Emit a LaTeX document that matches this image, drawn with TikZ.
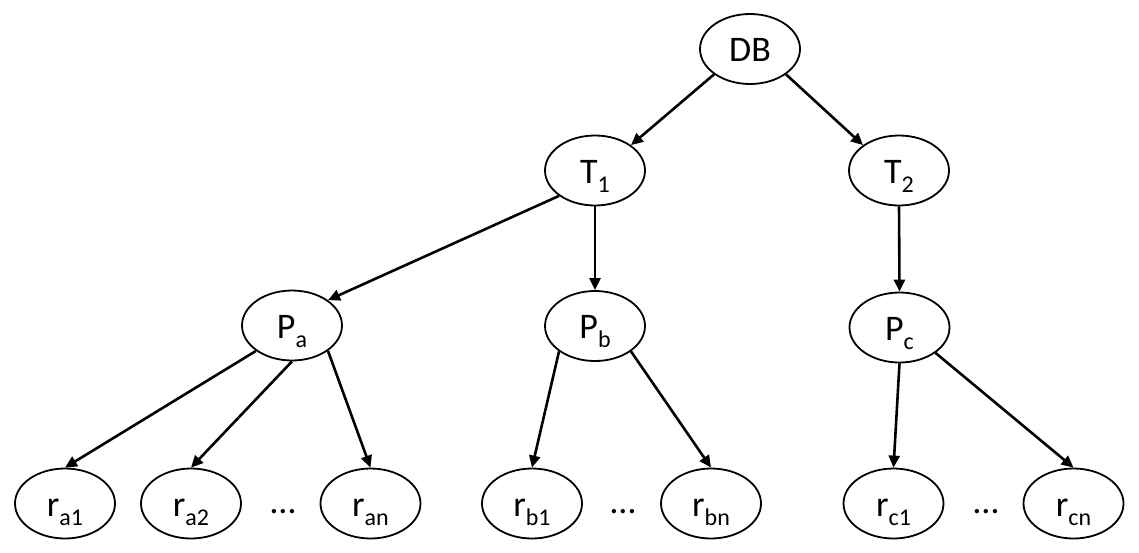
\documentclass[tikz,border=0pt]{standalone}
\usepackage{fontspec}
\setmainfont{Carlito}
\usetikzlibrary{shapes.geometric,arrows.meta}
% lowered, smaller index after a main letter
\newcommand{\lowsub}[1]{\raisebox{-9pt}{\fontsize{24}{24}\selectfont #1}}
\begin{document}
\begin{tikzpicture}[x=1pt,y=-1pt,
  nd/.style={ellipse,draw,line width=1.8pt,minimum width=100pt,minimum height=70pt,
    inner sep=0pt,text height=30pt,text depth=5pt,font=\fontsize{36}{40}\selectfont},
  link/.style={line width=2.6pt,-{Triangle[length=12pt,width=11pt]}},
  gap/.style={anchor=base,font=\fontsize{36}{40}\selectfont}]
\useasboundingbox (0,0) rectangle (1139,552);

% root and tables
\node[nd] (db) at (750,49) {DB};
\node[nd] (t1) at (595,170.5) {T\lowsub{1}};
\node[nd] (t2) at (899,170.5) {T\lowsub{2}};

% partitions
\node[nd] (pa) at (292,325.5) {P\lowsub{a}};
\node[nd] (pb) at (595,326) {P\lowsub{b}};
\node[nd] (pc) at (899.5,327.5) {P\lowsub{c}};

% rows
\node[nd] (ra1) at (65,503.5) {r\lowsub{a1}};
\node[nd] (ra2) at (191,503.5) {r\lowsub{a2}};
\node[nd] (ran) at (370.5,503.5) {r\lowsub{an}};
\node[nd] (rb1) at (532,503.5) {r\lowsub{b1}};
\node[nd] (rbn) at (711,503.5) {r\lowsub{bn}};
\node[nd] (rc1) at (893.5,503.5) {r\lowsub{c1}};
\node[nd] (rcn) at (1073.5,503.5) {r\lowsub{cn}};

% ellipses between rows
\node[gap] (da) at (283,513) {…};
\node[gap] (dbb) at (623,513) {…};
\node[gap] (dc) at (986,513) {…};

% connectors
\draw[link] (db.south west) -- (t1.north east);
\draw[link] (db.south east) -- (t2.north west);
\draw[link] (t1.south west) -- (pa.north east);
\draw[link] (t1.south) -- (pb.north);
\draw[link] (t2.south) -- (pc.north);
\draw[link] (pa.south west) -- (ra1.north);
\draw[link] (pa.south) -- (ra2.north);
\draw[link] (pa.south east) -- (ran.north);
\draw[link] (pb.south west) -- (rb1.north);
\draw[link] (pb.south east) -- (rbn.north);
\draw[link] (pc.south) -- (rc1.north);
\draw[link] (pc.south east) -- (rcn.north);
\end{tikzpicture}
\end{document}
